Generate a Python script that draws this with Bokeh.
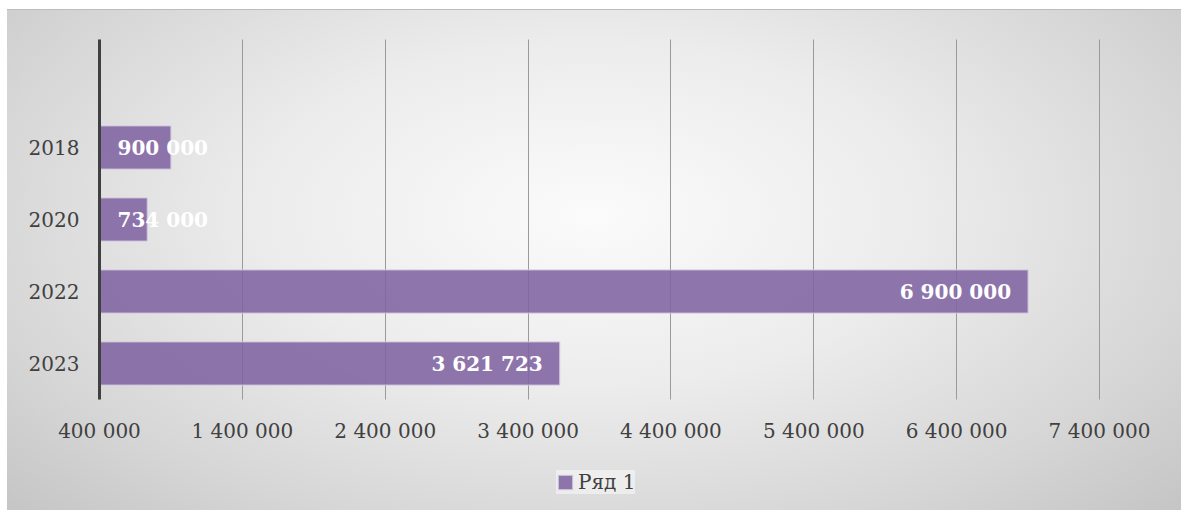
from bokeh.plotting import figure
from bokeh.models import (Range1d, FixedTicker, Legend, LegendItem, ColumnDataSource)
from bokeh.core.properties import value
from bokeh.embed import file_html
from bokeh.resources import INLINE

# ---- data ----
categories = ["2018", "2020", "2022", "2023"]          # top to bottom
values = [900000, 734000, 6900000, 3621723]
value_labels = ["900 000", "734 000", "6 900 000", "3 621 723"]
x_ticks = [400000, 1400000, 2400000, 3400000, 4400000, 5400000, 6400000, 7400000]
x_tick_labels = ["400 000", "1 400 000", "2 400 000", "3 400 000",
                 "4 400 000", "5 400 000", "6 400 000", "7 400 000"]
series_name = "Ряд 1"

FONT = "DejaVu Serif"
x0, x1 = x_ticks[0], x_ticks[-1]
n = len(categories)
ypos = [n - i for i in range(n)]   # 2018 at top

# ---- layout (pixels) ----
W, H = 1181, 510
plot_left, plot_top, plot_w = 99, 39, 1000   # the category/value area
slot_px = 72                                 # pixel height of one category slot
px_per_unit = plot_w / (x1 - x0)

y_top_area = n + 1.5          # one empty slot above the first category
y_axis_pos = 0.5              # bottom of the category area
x_start = x0 - plot_left / px_per_unit
x_end = x0 + (W - plot_left) / px_per_unit
y_end = y_top_area + plot_top / slot_px
y_start = y_axis_pos - (H - plot_top - (n + 1) * slot_px) / slot_px

p = figure(width=W, height=H, output_backend="svg", toolbar_location=None,
           x_range=Range1d(x_start, x_end), y_range=Range1d(y_start, y_end),
           min_border_left=0, min_border_right=0,
           min_border_top=0, min_border_bottom=0)
p.styles = {
    "background": "radial-gradient(ellipse 70% 85% at 50% 42%, #fbfbfb 0%, #ececec 40%, #d6d6d6 75%, #c4c4c4 100%)",
    "box-shadow": "inset 7px 9px 0 #ffffff, inset 7px 10px 0 #bcbcbc",
}
p.background_fill_alpha = 0
p.border_fill_alpha = 0
p.outline_line_color = None

src = ColumnDataSource(dict(y=ypos, right=values, cat=categories))
bars = p.hbar(y="y", left=x0, right="right", height=0.6, source=src,
              fill_color="#8064A2", fill_alpha=0.88,
              line_color="#d3c8e0", line_width=1)

# data labels: inside end; if too short, start from base
label_w_px = 90
lx, ly, la, lo = [], [], [], []
for v, y in zip(values, ypos):
    bar_px = (v - x0) * px_per_unit
    if bar_px - 17 < 18 + label_w_px:
        lx.append(x0); la.append("left"); lo.append(18)
    else:
        lx.append(v); la.append("right"); lo.append(-17)
    ly.append(y)
lsrc = ColumnDataSource(dict(x=lx, y=ly, t=value_labels, a=la, o=lo))
p.text(x="x", y="y", text="t", source=lsrc, text_align="a", x_offset="o",
       text_baseline="middle", text_color="white",
       text_font=value(FONT), text_font_style="bold", text_font_size="20px")

# grid
p.ygrid.visible = False
p.xgrid.ticker = FixedTicker(ticks=x_ticks)
p.xgrid.grid_line_color = "#9a9a9a"
p.xgrid.grid_line_width = 1
p.xgrid.cross_bounds = (y_axis_pos, y_top_area)

# x axis (drawn at the bottom of the category area)
xa = p.xaxis[0]
xa.fixed_location = y_axis_pos
xa.bounds = (x0, x1)
xa.ticker = FixedTicker(ticks=x_ticks)
xa.major_label_overrides = {t: l for t, l in zip(x_ticks, x_tick_labels)}
xa.axis_line_color = None
xa.major_tick_line_color = None
xa.minor_tick_line_color = None
xa.major_tick_out = 0
xa.major_label_standoff = 19
xa.major_label_text_font = FONT
xa.major_label_text_font_size = "20px"
xa.major_label_text_color = "#404040"

# y axis at the value-axis origin
ya = p.yaxis[0]
ya.fixed_location = x0
ya.ticker = FixedTicker(ticks=ypos)
ya.bounds = (y_axis_pos, y_top_area)
ya.major_label_overrides = {y: c for y, c in zip(ypos, categories)}
ya.axis_line_color = "#404040"
ya.axis_line_width = 3
ya.major_tick_line_color = None
ya.minor_tick_line_color = None
ya.major_tick_out = 0
ya.major_label_standoff = 20
ya.major_label_text_font = FONT
ya.major_label_text_font_size = "20px"
ya.major_label_text_color = "#404040"

legend = Legend(items=[LegendItem(label=series_name, renderers=[bars])],
                orientation="horizontal", location=(556, 16),
                glyph_width=18, glyph_height=18, label_standoff=4,
                padding=12, margin=0, label_height=22,
                label_text_font=FONT, label_text_font_size="20px",
                label_text_color="#404040",
                background_fill_color="#f4f4f4", background_fill_alpha=0.7,
                border_line_color=None)
p.add_layout(legend, "center")

open("out.html", "w").write(file_html(p, INLINE))
